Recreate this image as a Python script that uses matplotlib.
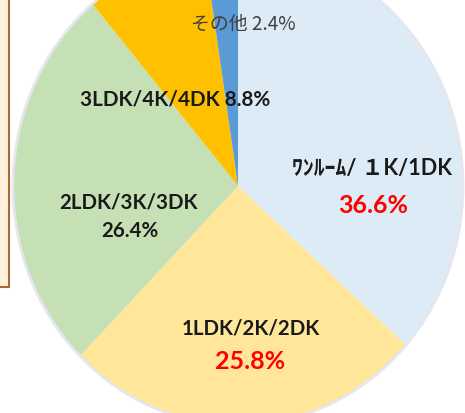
import matplotlib
matplotlib.use("Agg")
import matplotlib.pyplot as plt
from matplotlib.patches import Rectangle, Circle

# 間取り別の割合 (%)
labels = ["ﾜﾝﾙｰﾑ/ １K/1DK", "1LDK/2K/2DK", "2LDK/3K/3DK", "3LDK/4K/4DK", "その他"]
shares = [36.6, 25.8, 26.4, 8.8, 2.4]
colors = ["#DDEBF7", "#FFE699", "#C5E0B4", "#FFC000", "#5B9BD5"]

W, H = 465, 414
fig = plt.figure(figsize=(W / 100, H / 100), dpi=100)
fig.patch.set_facecolor("white")

# pie centre / radii in pixels (the picture is a bit stretched vertically)
cx, cy, rx, ry = 238, 187, 225, 239
ax = fig.add_axes([0, 0, 1, 1])
ax.pie(shares, colors=colors, startangle=90, counterclock=False,
       wedgeprops=dict(linewidth=0))
# faint halo round the edge
ax.add_patch(Circle((0, 0), 1.0, fill=False, edgecolor="#E6E6EE", linewidth=2))
ax.set_aspect("auto")
ax.set_xlim(-cx / rx, (W - cx) / rx)
ax.set_ylim(-(H - cy) / ry, cy / ry)
ax.axis("off")

# piece of the neighbouring text box on the left
fig.patches.append(Rectangle((-20, H - 288), 28.5, 300, transform=None,
                             facecolor="#FFF2DC", edgecolor="#A8683A",
                             linewidth=1.5, zorder=0))

latin = ["Lato", "Noto Sans CJK JP", "DejaVu Sans"]
dark = "#1A1A1A"
red = "#FF0000"


def put(px, py, s, **kw):
    fig.text(px / W, 1 - py / H, s, ha="center", va="center", **kw)


put(372, 168, labels[0], family=latin, fontweight="bold", fontsize=15.6, color=dark)
put(373, 206, f"{shares[0]}%", family=latin, fontweight="bold", fontsize=18, color=red)
put(251, 329, labels[1], family=latin, fontweight="bold", fontsize=14.8, color=dark)
put(250, 362, f"{shares[1]}%", family=latin, fontweight="bold", fontsize=18, color=red)
put(129, 203, labels[2], family=latin, fontweight="bold", fontsize=14.8, color=dark)
put(130, 231, f"{shares[2]}%", family=latin, fontweight="bold", fontsize=14.8, color=dark)
put(175, 100, f"{labels[3]} {shares[3]}%", family=latin, fontweight="bold", fontsize=14.9, color=dark)
put(243, 24, f"{labels[4]} {shares[4]}%", family=["Noto Sans CJK JP", "DejaVu Sans"],
    fontsize=13.6, color="#404040")

fig.savefig("out.png", dpi=100, facecolor="white")
